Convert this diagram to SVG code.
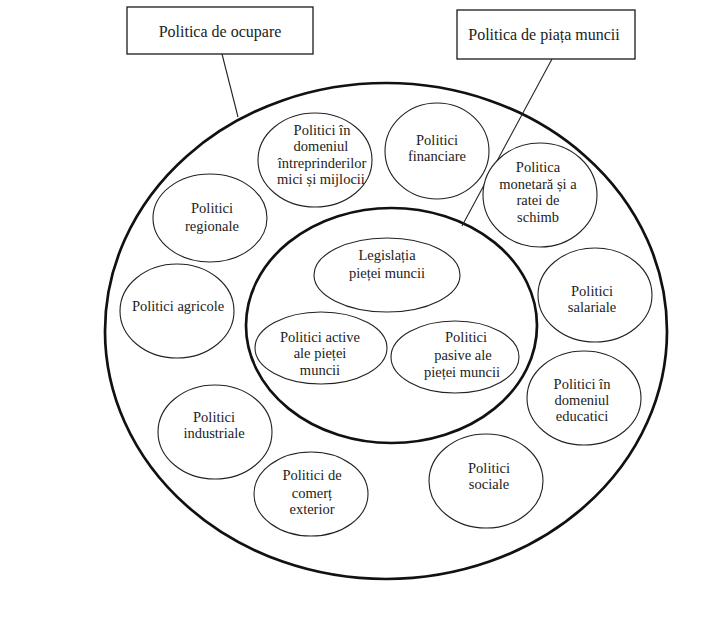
<svg xmlns="http://www.w3.org/2000/svg" width="728" height="637" viewBox="0 0 728 637" font-family="'Liberation Serif', 'Times New Roman', serif">
<style>
.bg{fill:#ffffff}
.box{fill:#ffffff;stroke:#1a1a1a;stroke-width:1.3}
.big{fill:none;stroke:#111;stroke-width:2.7}
.node{fill:#ffffff;stroke:#222;stroke-width:1.1}
.link{stroke:#222;stroke-width:1.1;fill:none}
text{font-family:"Liberation Serif","Times New Roman",serif;font-size:14.5px;fill:#222;text-anchor:middle}
.bt{font-size:16px}
</style>
<rect class="bg" x="0" y="0" width="728" height="637"/>
<g id="outer"><ellipse class="big" cx="386" cy="331" rx="281" ry="248"/></g>
<g id="inner"><ellipse class="big" cx="391.5" cy="325.5" rx="145.5" ry="117.5"/></g>
<g id="connectors">
<line class="link" x1="222" y1="54" x2="238" y2="117"/>
<line class="link" x1="552" y1="59" x2="462" y2="226"/>
</g>
<g id="box-ocupare"><rect class="box" x="127" y="7" width="186" height="47"/><text class="bt" x="220" y="37">Politica de ocupare</text></g>
<g id="box-piata"><rect class="box" x="457" y="10" width="178" height="49"/><text class="bt" x="544" y="40">Politica de piața muncii</text></g>
<g id="n-imm"><ellipse class="node" cx="315" cy="160" rx="57" ry="47"/>
<text x="322" y="135">Politici în</text><text x="321" y="151">domeniul</text><text x="322" y="168">întreprinderilor</text><text x="321" y="184">mici și mijlocii</text></g>
<g id="n-fin"><ellipse class="node" cx="437" cy="151" rx="52" ry="48"/>
<text x="437" y="145">Politici</text><text x="437" y="161">financiare</text></g>
<g id="n-mon"><ellipse class="node" cx="540" cy="195" rx="57" ry="52"/>
<text x="538" y="172">Politica</text><text x="538" y="189">monetară și a</text><text x="538" y="205">ratei de</text><text x="538" y="222">schimb</text></g>
<g id="n-reg"><ellipse class="node" cx="210" cy="218" rx="57" ry="44"/>
<text x="212" y="213">Politici</text><text x="212" y="231">regionale</text></g>
<g id="n-agr"><ellipse class="node" cx="177" cy="311" rx="57" ry="47"/>
<text x="178" y="311">Politici agricole</text></g>
<g id="n-leg"><ellipse class="node" cx="387" cy="275" rx="73" ry="37"/>
<text x="387" y="260">Legislația</text><text x="387" y="278">pieței muncii</text></g>
<g id="n-act"><ellipse class="node" cx="321" cy="348" rx="66" ry="36"/>
<text x="320" y="342">Politici active</text><text x="320" y="358">ale pieței</text><text x="320" y="375">muncii</text></g>
<g id="n-pas"><ellipse class="node" cx="455" cy="357" rx="64" ry="36"/>
<text x="466" y="342">Politici</text><text x="463" y="360">pasive ale</text><text x="462" y="377">pieței muncii</text></g>
<g id="n-sal"><ellipse class="node" cx="595" cy="295" rx="57" ry="47"/>
<text x="592" y="296">Politici</text><text x="592" y="312">salariale</text></g>
<g id="n-edu"><ellipse class="node" cx="584" cy="398" rx="57" ry="47"/>
<text x="582" y="389">Politici în</text><text x="582" y="405">domeniul</text><text x="582" y="421">educatici</text></g>
<g id="n-ind"><ellipse class="node" cx="215" cy="432" rx="57" ry="47"/>
<text x="214" y="422">Politici</text><text x="214" y="438">industriale</text></g>
<g id="n-com"><ellipse class="node" cx="311" cy="494" rx="57" ry="42"/>
<text x="312" y="480">Politici de</text><text x="312" y="498">comerț</text><text x="312" y="514">exterior</text></g>
<g id="n-soc"><ellipse class="node" cx="486" cy="481" rx="57" ry="47"/>
<text x="489" y="473">Politici</text><text x="489" y="489">sociale</text></g>
</svg>
